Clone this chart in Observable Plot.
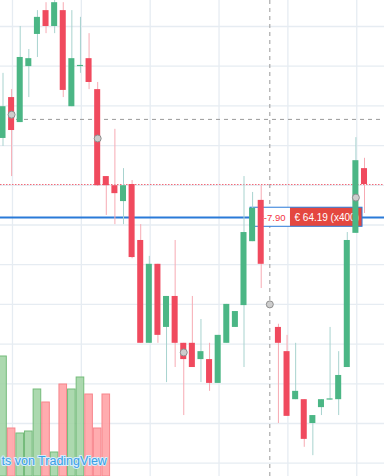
<!DOCTYPE html>
<html><head><meta charset="utf-8">
<script src="https://cdn.jsdelivr.net/npm/d3@7"></script>
<script src="https://cdn.jsdelivr.net/npm/@observablehq/plot@0.6"></script>
<style>
html,body{margin:0;padding:0;background:#fff;}
#chart{position:relative;width:384px;height:476px;overflow:hidden;}
#chart svg{position:absolute;left:0;top:0;background:transparent;overflow:hidden;}
</style></head><body><div id="chart"></div>
<script>
// OHLC per bar (index 0..42); bar 31 has no candle
const opens  = [66.18,67.21,66.58,67.99,68.80,69.40,69.00,69.40,66.98,67.99,68.19,67.41,65.22,64.99,64.59,65.02,63.61,61.02,63.01,61.42,62.20,61.02,61.02,60.61,60.61,60.01,61.02,61.42,61.97,63.58,64.62,null,61.42,60.81,59.60,59.60,59.00,59.40,59.59,59.60,60.41,63.79,65.42];
const highs  = [67.82,67.41,69.00,68.42,69.40,69.60,69.66,69.60,69.40,69.23,68.82,67.59,65.22,66.41,65.42,65.12,64.01,63.21,63.01,62.20,63.61,61.02,62.20,61.62,61.02,61.22,62.00,61.82,65.22,64.82,64.99,null,61.50,61.22,61.02,59.60,59.20,59.60,61.42,60.81,63.81,66.20,65.68];
const lows   = [65.98,65.22,66.58,67.21,68.22,68.82,68.82,67.21,66.98,67.82,67.41,64.97,64.24,64.01,64.01,63.15,61.02,61.02,61.02,60.03,60.41,59.20,60.41,60.03,59.81,60.01,61.02,61.42,60.41,63.58,62.40,null,59.00,59.18,59.60,58.40,58.19,59.20,59.59,59.20,60.41,63.79,64.29];
const closes = [66.98,66.38,68.22,68.19,69.23,69.00,69.60,67.39,68.19,68.02,67.59,64.99,64.99,64.79,64.99,63.18,61.02,63.01,61.22,62.20,61.02,60.61,60.41,60.81,60.01,61.22,62.00,61.82,63.81,64.42,63.01,null,61.02,59.18,59.81,58.60,59.20,59.60,59.62,60.21,63.61,65.62,65.02];
// volume for the first bars (visible part of the volume pane)
const volumes = [120,48,43,45,87,74,24,92,87,99,82,48,82];
// indicator dots every 10 bars
const dotIdx = [1,11,21,31,41];
const dotVal = [66.78,66.18,60.79,62.00,64.69];
// grid
const gridPrices = [58,59,60,61,62,63,64,65,66,67,68,69];
const gridIdx = [1.1,9.1,17.1,25.1,33.1,41.1];
// lines / labels
const crossIdx = 31, crossPrice = 66.66;
const lastPrice = 65.02;
const posPrice = 64.19;
const labelLeft = "€-7.90";
const labelRight = "€ 64.19 (x400)";
const labelSpan = [28.76, 33.4, 41.77];
const watermark = "ts von TradingView";

const W = 384, H = 476;
const GREEN = "#4bb685", RED = "#f04a5e";
const FONT = "Liberation Sans, Arial, sans-serif";
const candles = opens.map((o,i)=>({i,o,h:highs[i],l:lows[i],c:closes[i]})).filter(d=>d.o!=null);
const vols = volumes.map((v,i)=>({i,v,up: closes[i]>=opens[i]}));
const dots = dotIdx.map((x,k)=>({x,y:dotVal[k]}));
const xS = {type:"linear", domain:[0,42], range:[2.5,364], axis:null};
const yS = {type:"linear", domain:[57.665,69.655], range:[476,0], axis:null};
const base = {width:W, height:H, margin:0, style:{background:"transparent"}};

const grid = Plot.plot({...base, x:xS, y:yS, marks:[
  Plot.ruleY(gridPrices,{stroke:"#e6ecf2", strokeWidth:1.3}),
  Plot.ruleX(gridIdx,{stroke:"#e6ecf2", strokeWidth:1.3})
]});

const vol = Plot.plot({...base, x:xS, y:{type:"linear", domain:[0,476], range:[476,0], axis:null}, marks:[
  Plot.rect(vols,{x1:d=>d.i-0.5, x2:d=>d.i+0.5, y1:0, y2:"v",
    fill:d=>d.up?"#a3d5a6":"#ffa3a6", fillOpacity:0.9,
    stroke:d=>d.up?"#74bb7a":"#f7868c", strokeWidth:1, insetLeft:0.5, insetRight:0.5}),
  Plot.text([watermark],{frameAnchor:"bottom-left", dx:1, dy:-12, textAnchor:"start",
    fill:"#3a9fe6", fontSize:12.5, fontFamily:FONT,
    stroke:"#d6ecfb", strokeWidth:2, paintOrder:"stroke"})
]});

const main = Plot.plot({...base, x:xS, y:yS, marks:[
  Plot.ruleX([crossIdx],{stroke:"#9a9a9a", strokeDasharray:"4 4"}),
  Plot.ruleY([crossPrice],{stroke:"#9a9a9a", strokeDasharray:"4 4"}),
  Plot.ruleY([lastPrice],{stroke:"#f26b78", strokeDasharray:"1.5 1.5"}),
  Plot.ruleY([posPrice],{stroke:"#2a7ad8", strokeWidth:2}),
  Plot.rect([0],{x1:labelSpan[0], x2:labelSpan[1], y1:posPrice-0.235, y2:posPrice+0.245, fill:"white"}),
  Plot.rect([0],{x1:labelSpan[1], x2:labelSpan[2], y1:posPrice-0.235, y2:posPrice+0.245, fill:"#e4473f"}),
  Plot.rect([0],{x1:labelSpan[0], x2:labelSpan[2], y1:posPrice-0.235, y2:posPrice+0.245, fill:"none", stroke:"#2a7ad8", strokeWidth:1}),
  Plot.text([labelLeft],{x:labelSpan[1], y:posPrice, dx:-5, textAnchor:"end", fill:"#f23645", fontSize:9.5, fontFamily:FONT}),
  Plot.text([labelRight],{x:labelSpan[1], y:posPrice, dx:4, textAnchor:"start", fill:"white", fontSize:10, fontFamily:FONT}),
  Plot.ruleX(candles,{x:"i", y1:"l", y2:"h", stroke:d=>d.c>=d.o?"#a8d3cf":"#f7aab3", strokeWidth:1}),
  Plot.rect(candles,{x1:d=>d.i-0.35, x2:d=>d.i+0.35, y1:"o", y2:"c", fill:d=>d.c>=d.o?GREEN:RED}),
  Plot.dot(dots,{x:"x", y:"y", r:3.5, fill:"#cdcdcd", stroke:"#8e8e8e", strokeWidth:1})
]});

const el = document.getElementById("chart");
el.append(grid, vol, main);
</script></body></html>
